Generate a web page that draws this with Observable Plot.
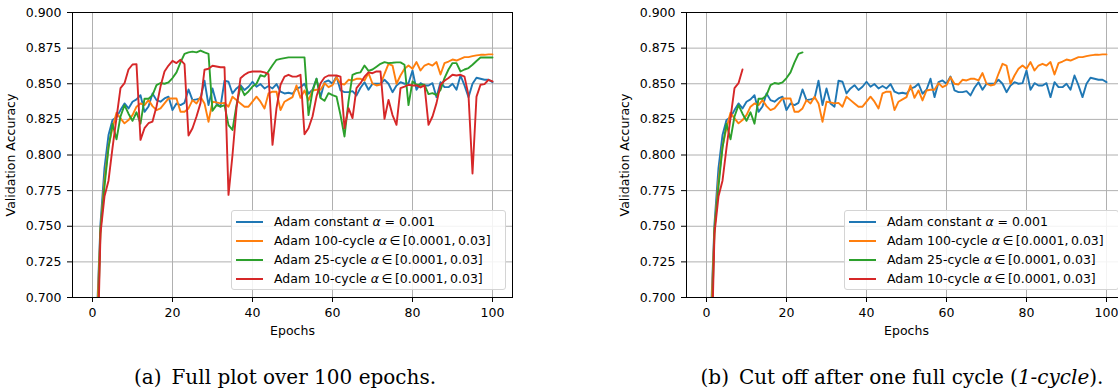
<!DOCTYPE html>
<html><head><meta charset="utf-8">
<script src="https://cdn.jsdelivr.net/npm/d3@7"></script>
<script src="https://cdn.jsdelivr.net/npm/@observablehq/plot@0.6"></script>
<style>
html,body{margin:0;padding:0;}
body{width:1118px;height:392px;overflow:hidden;background:#fff;position:relative;font-family:"DejaVu Sans",sans-serif;color:#000;}
.panel{position:absolute;top:0;}
.panel svg{max-width:none !important;}
.legend{position:absolute;top:210px;height:80px;border:1px solid #d4d4d4;border-radius:3px;background:rgba(255,255,255,0.85);font-size:12.5px;box-sizing:border-box;}
.row{position:absolute;left:0;height:19px;white-space:nowrap;}
.swatch{position:absolute;left:4px;top:8.5px;width:27px;height:2px;}
.lab{position:absolute;left:42px;top:0;line-height:19px;}
.lab i{font-style:italic;}
.caption{position:absolute;top:365px;font-family:"DejaVu Serif",serif;font-size:20px;line-height:24px;white-space:nowrap;transform:translateX(-50%);}
</style>
</head><body>
<script>
// ---- data ----
const epochs = Array.from({length: 100}, (_, i) => i + 1);
const xTicks = [0, 20, 40, 60, 80, 100];
const yTicks = [0.700, 0.725, 0.750, 0.775, 0.800, 0.825, 0.850, 0.875, 0.900];
const seriesNames = ["Adam constant", "Adam 100-cycle", "Adam 25-cycle", "Adam 10-cycle"];
const seriesColors = ["#1f77b4", "#ff7f0e", "#2ca02c", "#d62728"];

const adamConstant = [
  0.680,0.752,0.791,0.814,0.8245,0.8264,0.8315,0.8362,0.8327,0.8374,
  0.839,0.842,0.8303,0.834,0.8432,0.8385,0.8374,0.8397,0.8409,0.8315,
  0.8362,0.835,0.8366,0.846,0.8385,0.839,0.8397,0.8521,0.835,0.8467,
  0.8362,0.8339,0.8521,0.8514,0.8432,0.8467,0.849,0.8456,0.8479,0.8514,
  0.8479,0.8498,0.8467,0.8484,0.8467,0.8498,0.8444,0.8432,0.8437,0.843,
  0.8465,0.8476,0.850,0.843,0.8458,0.8535,0.8406,0.8511,0.8523,0.850,
  0.8551,0.8453,0.8441,0.8441,0.8448,0.8418,0.8472,0.8511,0.8458,0.850,
  0.850,0.850,0.8528,0.850,0.8441,0.8488,0.8511,0.850,0.8504,0.8593,
  0.8458,0.8504,0.8488,0.8488,0.8504,0.8406,0.8511,0.8476,0.8476,0.850,
  0.8458,0.8558,0.8488,0.8406,0.850,0.8542,0.8535,0.8528,0.8528,0.8511
];
const adam100 = [
  0.675,0.748,0.782,0.806,0.819,0.8296,0.8257,0.8222,0.8245,0.828,
  0.8339,0.8362,0.835,0.8385,0.8343,0.8315,0.8327,0.8362,0.8397,0.8397,
  0.8397,0.8303,0.8303,0.8327,0.8385,0.8362,0.8409,0.8362,0.8233,0.8374,
  0.8369,0.8362,0.8366,0.8339,0.8409,0.8385,0.8362,0.8339,0.8339,0.8374,
  0.8409,0.8374,0.8327,0.8432,0.8444,0.8444,0.8315,0.8374,0.839,0.8406,
  0.8488,0.8401,0.8453,0.8383,0.8453,0.8458,0.8458,0.8504,0.8476,0.849,
  0.8546,0.850,0.8495,0.8528,0.8523,0.8535,0.8535,0.8523,0.8575,0.850,
  0.8488,0.8495,0.857,0.864,0.8628,0.850,0.8558,0.8605,0.8628,0.8605,
  0.8652,0.8593,0.8628,0.864,0.8628,0.8652,0.8565,0.8645,0.8656,0.867,
  0.8663,0.8675,0.8687,0.8687,0.8694,0.8699,0.8703,0.8703,0.8706,0.8706
];
const adam25 = [
  0.650,0.748,0.778,0.805,0.822,0.811,0.827,0.835,0.829,0.824,
  0.830,0.822,0.8395,0.8395,0.842,0.849,0.8505,0.850,0.851,0.854,
  0.858,0.865,0.871,0.872,0.8725,0.872,0.8733,0.872,0.871,0.831,
  0.835,0.834,0.835,0.821,0.8176,0.835,0.848,0.842,0.8446,0.848,
  0.850,0.856,0.855,0.8587,0.863,0.8668,0.8675,0.868,0.8685,0.8685,
  0.8685,0.8685,0.8685,0.828,0.8446,0.8535,0.840,0.838,0.8434,0.842,
  0.841,0.828,0.813,0.8376,0.8563,0.8575,0.858,0.8628,0.859,0.860,
  0.862,0.864,0.8652,0.8645,0.8647,0.865,0.865,0.8633,0.835,0.8516,
  0.8493,0.8493,0.8493,0.8427,0.8434,0.842,0.8457,0.854,0.860,0.8645,
  0.8645,0.8586,0.860,0.861,0.8633,0.866,0.8684,0.8684,0.8684,0.8684
];
const adam10 = [
  0.630,0.745,0.771,0.782,0.805,0.826,0.847,0.8504,0.860,0.8635,
  0.8638,0.8106,0.8188,0.8223,0.8235,0.834,0.848,0.8586,0.8628,0.8661,
  0.8645,0.8668,0.8638,0.8137,0.8188,0.827,0.8364,0.8598,0.8605,0.8626,
  0.8621,0.8616,0.8616,0.772,0.800,0.8329,0.8539,0.8563,0.858,0.8586,
  0.8586,0.8586,0.858,0.8567,0.8071,0.8329,0.8493,0.855,0.8563,0.855,
  0.855,0.8563,0.8146,0.8188,0.827,0.841,0.8504,0.8544,0.8558,0.8558,
  0.8558,0.855,0.8188,0.8329,0.8259,0.8469,0.8504,0.855,0.858,0.8574,
  0.8586,0.8586,0.8254,0.8387,0.828,0.8212,0.847,0.848,0.8493,0.8488,
  0.8488,0.8474,0.8488,0.8212,0.827,0.8364,0.8493,0.8521,0.854,0.8563,
  0.8558,0.8563,0.855,0.842,0.787,0.841,0.8493,0.8497,0.8528,0.8516
];
// right panel: cut off after one full cycle
const cutAdam25 = 24;
const cutAdam10 = 9;

const legendLabels = [
  'Adam constant <i>α</i> = 0.001',
  'Adam 100-cycle <i>α</i>&#8201;∈&#8201;[0.0001,&#8201;0.03]',
  'Adam 25-cycle <i>α</i>&#8201;∈&#8201;[0.0001,&#8201;0.03]',
  'Adam 10-cycle <i>α</i>&#8201;∈&#8201;[0.0001,&#8201;0.03]'
];
const captions = ["(a)\u2002Full plot over 100 epochs.", "(b)\u2002Cut off after one full cycle (<i>1-cycle</i>)."];

function rows(values, n) {
  return values.slice(0, n).map((v, i) => ({epoch: epochs[i], acc: v}));
}

function makePanel(seriesValues, cuts, width, marginLeft, marginRight) {
  const lines = seriesValues.map((vals, k) =>
    Plot.line(rows(vals, cuts[k]), {x: "epoch", y: "acc", stroke: seriesColors[k], strokeWidth: 1.9, clip: true}));
  return Plot.plot({
    width, height: 340,
    marginLeft, marginRight, marginTop: 12, marginBottom: 43,
    style: {fontFamily: "DejaVu Sans", fontSize: "12.5px", color: "#000", background: "transparent", overflow: "visible", maxWidth: "none"},
    x: {domain: [-5, 105]},
    y: {domain: [0.7, 0.9]},
    marks: [
      Plot.gridX(xTicks, {stroke: "#b0b0b0", strokeOpacity: 1, strokeWidth: 1}),
      Plot.gridY(yTicks, {stroke: "#b0b0b0", strokeOpacity: 1, strokeWidth: 1}),
      ...lines,
      Plot.frame({stroke: "#000", strokeWidth: 1}),
      Plot.axisX(xTicks, {tickSize: 5, tickPadding: 6, label: "Epochs", labelAnchor: "center", labelOffset: 37, labelArrow: "none", fontSize: 12.5}),
      Plot.axisY(yTicks, {tickSize: 5, tickPadding: 6, tickFormat: d3.format(".3f"), label: "Validation Accuracy", labelAnchor: "center", labelOffset: 66, labelArrow: "none", fontSize: 12.5})
    ]
  });
}

function addPanel(svg, left, width) {
  const d = document.createElement("div");
  d.className = "panel";
  d.style.left = left + "px";
  d.style.width = width + "px";
  svg.style.maxWidth = "none";
  d.appendChild(svg);
  document.body.appendChild(d);
}

function addLegend(left, width) {
  const lg = document.createElement("div");
  lg.className = "legend";
  lg.style.left = left + "px";
  lg.style.width = width + "px";
  legendLabels.forEach((t, k) => {
    const r = document.createElement("div");
    r.className = "row";
    r.style.top = (1 + k * 19.1) + "px";
    r.innerHTML = `<span class="swatch" style="background:${seriesColors[k]}"></span><span class="lab">${t}</span>`;
    lg.appendChild(r);
  });
  document.body.appendChild(lg);
}

function addCaption(html, cx) {
  const c = document.createElement("div");
  c.className = "caption";
  c.style.left = cx + "px";
  c.innerHTML = html;
  document.body.appendChild(c);
}

const all = [adamConstant, adam100, adam25, adam10];
addPanel(makePanel(all, [100, 100, 100, 100], 560, 72, 48), 0, 560);
addPanel(makePanel(all, [100, 100, cutAdam25, cutAdam10], 580, 126, 14), 560, 580);
addLegend(231, 275);
addLegend(844, 275);
addCaption(captions[0], 285);
addCaption(captions[1], 902);
</script>
</body></html>
